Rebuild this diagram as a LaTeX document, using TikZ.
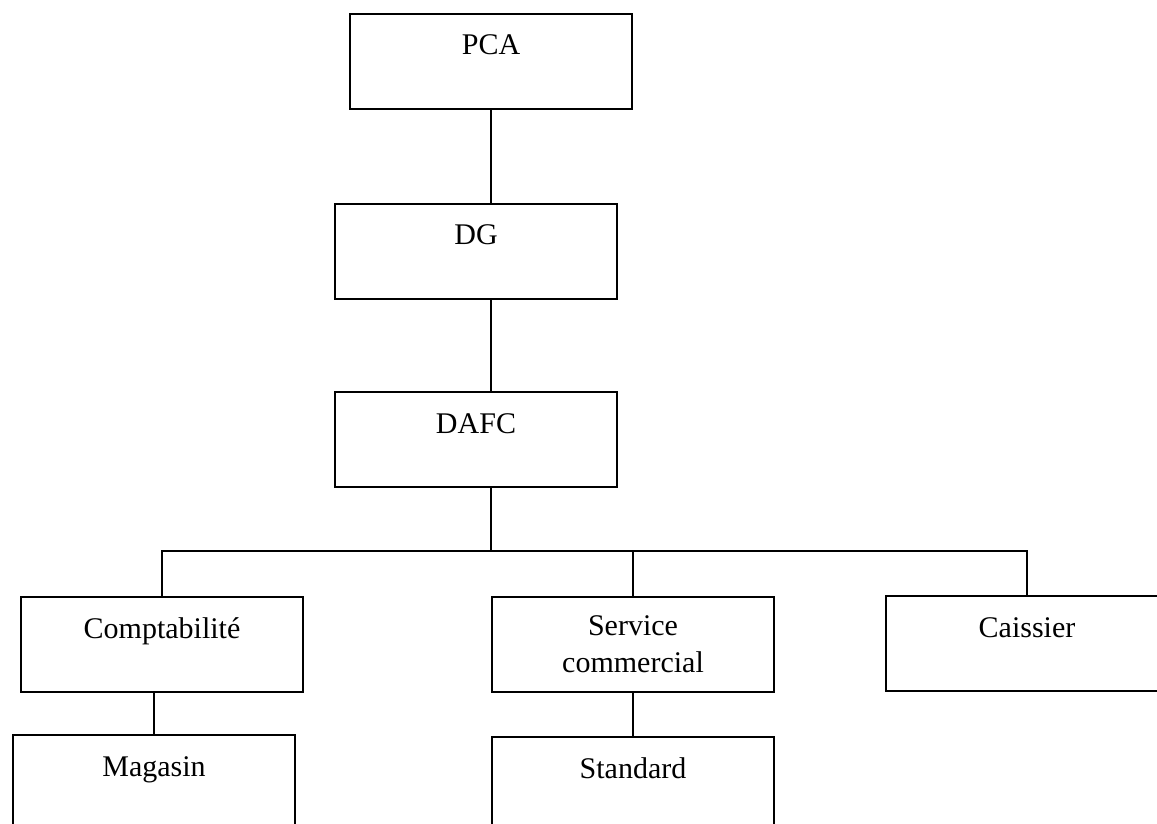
\documentclass[tikz,border=0pt]{standalone}
\usepackage{fontspec}
\setmainfont{Liberation Serif}
\usepackage{tikz}
\usetikzlibrary{positioning,calc}

\tikzset{
  unit/.style={draw, line width=0.8pt, anchor=north west, inner sep=0pt,
    minimum width=112.8pt, minimum height=38pt,
    font=\fontsize{12}{14.8}\selectfont, align=center},
  toptext/.style={text height=16.4pt, text depth=21.6pt},
  link/.style={line width=0.8pt}
}

\begin{document}
\begin{tikzpicture}[x=0.4pt, y=-0.4pt]
    \useasboundingbox (0,0) rectangle (1157,824);
    \clip (0,0) rectangle (1157,824);

    % direction
    \node[unit, toptext] (pca) at (349,13) {PCA};
    \node[unit, toptext] (dg) at (334,203) {DG};
    \node[unit, toptext] (dafc) at (334,391) {DAFC};

    % services
    \node[unit, toptext] (compta) at (20,596) {Comptabilit\'e};
    \node[unit] (service) at (491,596) {Service\\commercial};
    \node[unit, toptext] (caissier) at (885,595) {Caissier};
    \node[unit, toptext] (magasin) at (12,734) {Magasin};
    \node[unit, toptext] (standard) at (491,736) {Standard};

    \coordinate (bus) at ($(dafc.south -| pca.south)+(0,63)$);

    \draw[link] (pca.south) -- (pca.south |- dg.north);
    \draw[link] (dg.south -| pca.south) -- (dafc.north -| pca.south);
    \draw[link] (dafc.south -| pca.south) -- (bus);
    \draw[link] (compta.north) |- (bus) -| (caissier.north);
    \draw[link] (service.north) -- (service.north |- bus);
    \draw[link] (magasin.north) -- (magasin.north |- compta.south);
    \draw[link] (service.south) -- (standard.north);
\end{tikzpicture}
\end{document}
